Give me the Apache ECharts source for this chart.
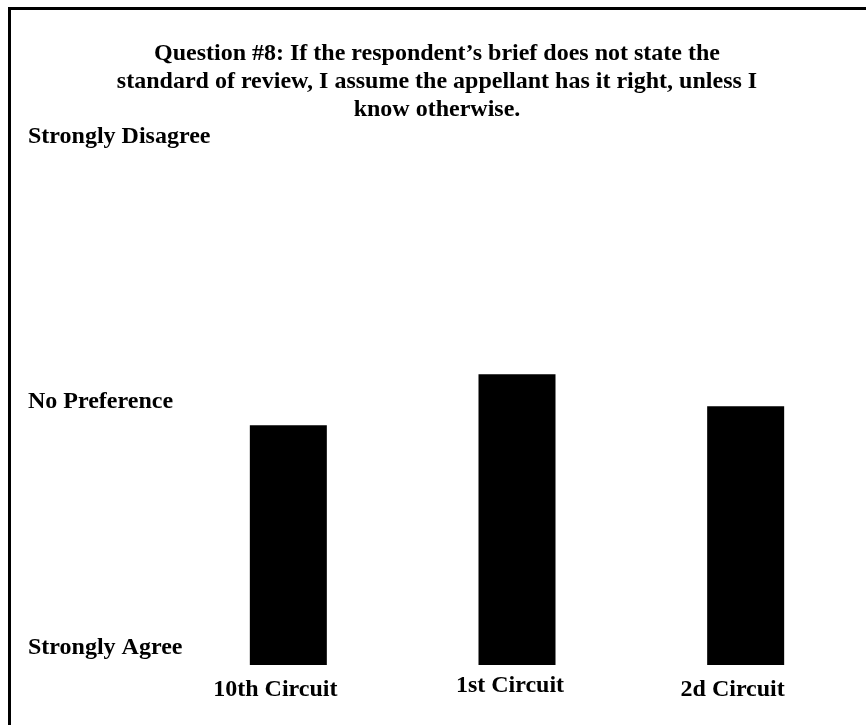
<!DOCTYPE html>
<html>
<head>
<meta charset="utf-8">
<script src="https://cdn.jsdelivr.net/npm/echarts@6/dist/echarts.min.js"></script>
<style>
html,body{margin:0;padding:0;background:#fff;}
#chart{width:866px;height:725px;}
</style>
</head>
<body>
<div id="chart"></div>
<script>
var titleText = 'Question #8: If the respondent\u2019s brief does not state the\nstandard of review, I assume the appellant has it right, unless I\nknow otherwise.';
var categories = ['10th Circuit', '1st Circuit', '2d Circuit'];
var values = [2.88, 3.28, 3.03];
var scaleLabels = {1: 'Strongly Agree', 3: 'No Preference', 5: 'Strongly Disagree'};

var FONT = '"Liberation Serif", "Times New Roman", serif';
var chart = echarts.init(document.getElementById('chart'), null, {renderer: 'canvas'});
chart.setOption({
  backgroundColor: '#ffffff',
  animation: false,
  title: {
    text: titleText,
    left: 432,
    textAlign: 'center',
    top: 35,
    textStyle: {fontFamily: FONT, fontWeight: 'bold', fontSize: 24, lineHeight: 28, color: '#000'}
  },
  graphic: [{
    type: 'rect',
    shape: {x: 9.5, y: 8.5, width: 1000, height: 1000},
    style: {fill: 'none', stroke: '#000', lineWidth: 3},
    silent: true
  }],
  grid: {left: 174, right: 6, top: 155, bottom: 60, containLabel: false},
  xAxis: {
    type: 'category',
    data: categories,
    axisLine: {show: false},
    axisTick: {show: false},
    axisLabel: {
      margin: 9,
      fontFamily: FONT, fontWeight: 'bold', fontSize: 24, color: '#000',
      formatter: function (v) { return v === '1st Circuit' ? '{u|' + v + '}' : '{c|' + v + '}'; },
      rich: {
        c: {fontFamily: FONT, fontWeight: 'bold', fontSize: 24, color: '#000', padding: [4, 26, 0, 0]},
        u: {fontFamily: FONT, fontWeight: 'bold', fontSize: 24, color: '#000', padding: [0, 14, 0, 0]}
      }
    }
  },
  yAxis: {
    type: 'value',
    min: 1, max: 5, interval: 2,
    axisLine: {show: false},
    axisTick: {show: false},
    splitLine: {show: false},
    axisLabel: {
      align: 'left',
      margin: 146,
      fontFamily: FONT, fontWeight: 'bold', fontSize: 24, color: '#000',
      formatter: function (v) {
        var t = scaleLabels[v] || '';
        var k = v === 5 ? 'd' : (v === 3 ? 'n' : 'a');
        return '{' + k + '|' + t + '}';
      },
      rich: {
        d: {fontFamily: FONT, fontWeight: 'bold', fontSize: 24, color: '#000', padding: [0, 0, 37, 0]},
        n: {fontFamily: FONT, fontWeight: 'bold', fontSize: 24, color: '#000', padding: [0, 0, 17, 0]},
        a: {fontFamily: FONT, fontWeight: 'bold', fontSize: 24, color: '#000', padding: [0, 0, 35, 0]}
      }
    }
  },
  series: [{
    type: 'bar',
    data: values,
    barWidth: 77,
    clip: true,
    itemStyle: {color: '#000'}
  }]
});
</script>
</body>
</html>
